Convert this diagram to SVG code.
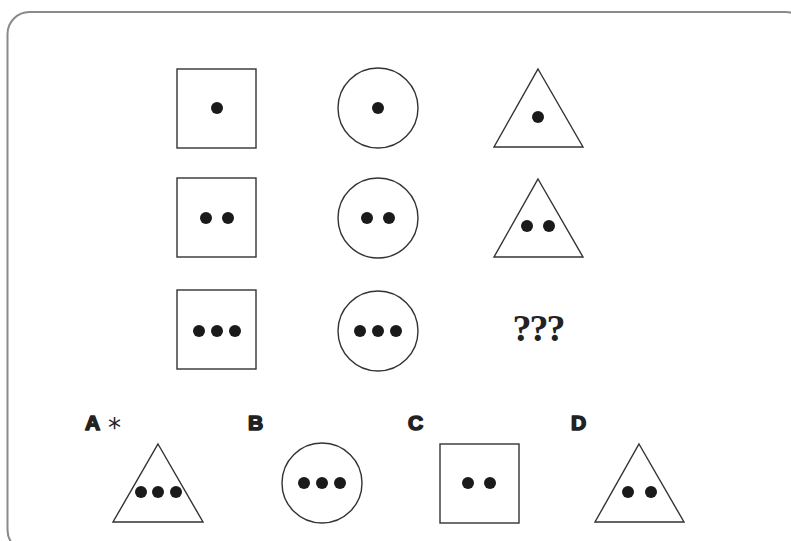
<svg xmlns="http://www.w3.org/2000/svg" width="791" height="541" viewBox="0 0 791 541">
<style>
.sh{fill:none;stroke:#333;stroke-width:1.4}
.dot{fill:#1a1a1a}
.lbl{font-family:"Liberation Sans",Arial,sans-serif;font-weight:bold;font-size:21px;fill:#222;stroke:#222;stroke-width:1.6;stroke-linejoin:round}
.q{font-family:"Liberation Serif","Times New Roman",serif;font-weight:bold;font-size:38px;fill:#222}
.ast{font-family:"DejaVu Sans",sans-serif;font-size:26px;fill:#222}
</style>
<rect x="7.5" y="12" width="800" height="540" rx="22" fill="#fff" stroke="#8a8a8a" stroke-width="2"/>
<g id="r1-square"><rect class="sh" x="177" y="69" width="79" height="79"/><circle class="dot" cx="217" cy="108" r="6"/></g>
<g id="r1-circle"><circle class="sh" cx="378" cy="108" r="40"/><circle class="dot" cx="378" cy="108" r="6"/></g>
<g id="r1-triangle"><polygon class="sh" points="538,69 583,147 494,147"/><circle class="dot" cx="538" cy="117" r="6"/></g>
<g id="r2-square"><rect class="sh" x="177" y="178" width="79" height="79"/><circle class="dot" cx="206" cy="218" r="6"/><circle class="dot" cx="228" cy="218" r="6"/></g>
<g id="r2-circle"><circle class="sh" cx="378" cy="218" r="40"/><circle class="dot" cx="367" cy="218" r="6"/><circle class="dot" cx="389" cy="218" r="6"/></g>
<g id="r2-triangle"><polygon class="sh" points="538,179 583,257 494,257"/><circle class="dot" cx="527" cy="226" r="6"/><circle class="dot" cx="549" cy="226" r="6"/></g>
<g id="r3-square"><rect class="sh" x="177" y="290" width="79" height="79"/><circle class="dot" cx="199" cy="331" r="6"/><circle class="dot" cx="217" cy="331" r="6"/><circle class="dot" cx="235" cy="331" r="6"/></g>
<g id="r3-circle"><circle class="sh" cx="378" cy="331" r="40"/><circle class="dot" cx="360" cy="331" r="6"/><circle class="dot" cx="378" cy="331" r="6"/><circle class="dot" cx="396" cy="331" r="6"/></g>
<g id="r3-unknown"><text class="q" x="538" y="341" text-anchor="middle" letter-spacing="-2">???</text></g>
<g id="optA"><text class="lbl" x="85" y="430">A</text><text class="ast" x="108" y="437">*</text><polygon class="sh" points="158,444 203,522 113,522"/><circle class="dot" cx="141" cy="492" r="6"/><circle class="dot" cx="158" cy="492" r="6"/><circle class="dot" cx="176" cy="492" r="6"/></g>
<g id="optB"><text class="lbl" x="248" y="430">B</text><circle class="sh" cx="322" cy="483" r="40"/><circle class="dot" cx="304" cy="483" r="6"/><circle class="dot" cx="322" cy="483" r="6"/><circle class="dot" cx="340" cy="483" r="6"/></g>
<g id="optC"><text class="lbl" x="408" y="430">C</text><rect class="sh" x="440" y="444" width="79" height="79"/><circle class="dot" cx="468" cy="483" r="6"/><circle class="dot" cx="490" cy="483" r="6"/></g>
<g id="optD"><text class="lbl" x="571" y="430">D</text><polygon class="sh" points="639,444 684,522 595,522"/><circle class="dot" cx="628" cy="492" r="6"/><circle class="dot" cx="651" cy="492" r="6"/></g>
<g id="connectors"/>
</svg>
